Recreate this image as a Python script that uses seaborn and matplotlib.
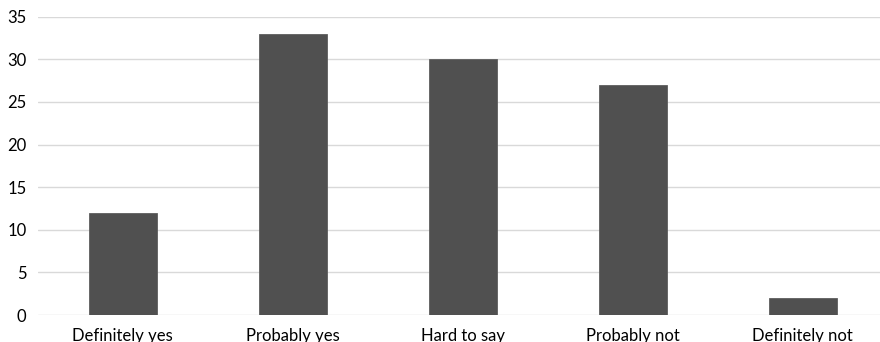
import matplotlib
matplotlib.use("Agg")
import matplotlib.pyplot as plt
import seaborn as sns
import pandas as pd

categories = ["Definitely yes", "Probably yes", "Hard to say", "Probably not", "Definitely not"]
counts = [12, 33, 30, 27, 2]
y_ticks = [0, 5, 10, 15, 20, 25, 30, 35]

sns.set_theme(style="white")
plt.rcParams["font.family"] = ["Lato", "DejaVu Sans"]

df = pd.DataFrame({"answer": categories, "count": counts})

fig = plt.figure(figsize=(8.8, 3.42), dpi=100)
ax = fig.add_axes([37.5 / 880, 1 - 315 / 342, 850 / 880, (315 - 16.7) / 342])

sns.barplot(data=df, x="answer", y="count", color="#505050", width=0.4,
            saturation=1, edgecolor="#5e5e5e", linewidth=0.6, ax=ax, zorder=3)

ax.set_ylim(0, 35)
ax.set_xlim(-0.5, len(categories) - 0.5)
ax.set_yticks(y_ticks)
ax.yaxis.grid(True, color="#d9d9d9", linewidth=1.0, zorder=0)
ax.set_axisbelow(True)
for s in ax.spines.values():
    s.set_visible(False)
ax.set_xlabel("")
ax.set_ylabel("")
ax.tick_params(axis="both", length=0, labelsize=12, colors="#000000")
ax.tick_params(axis="y", pad=8)
ax.tick_params(axis="x", pad=9)

fig.savefig("out.png", dpi=100, facecolor="white")
